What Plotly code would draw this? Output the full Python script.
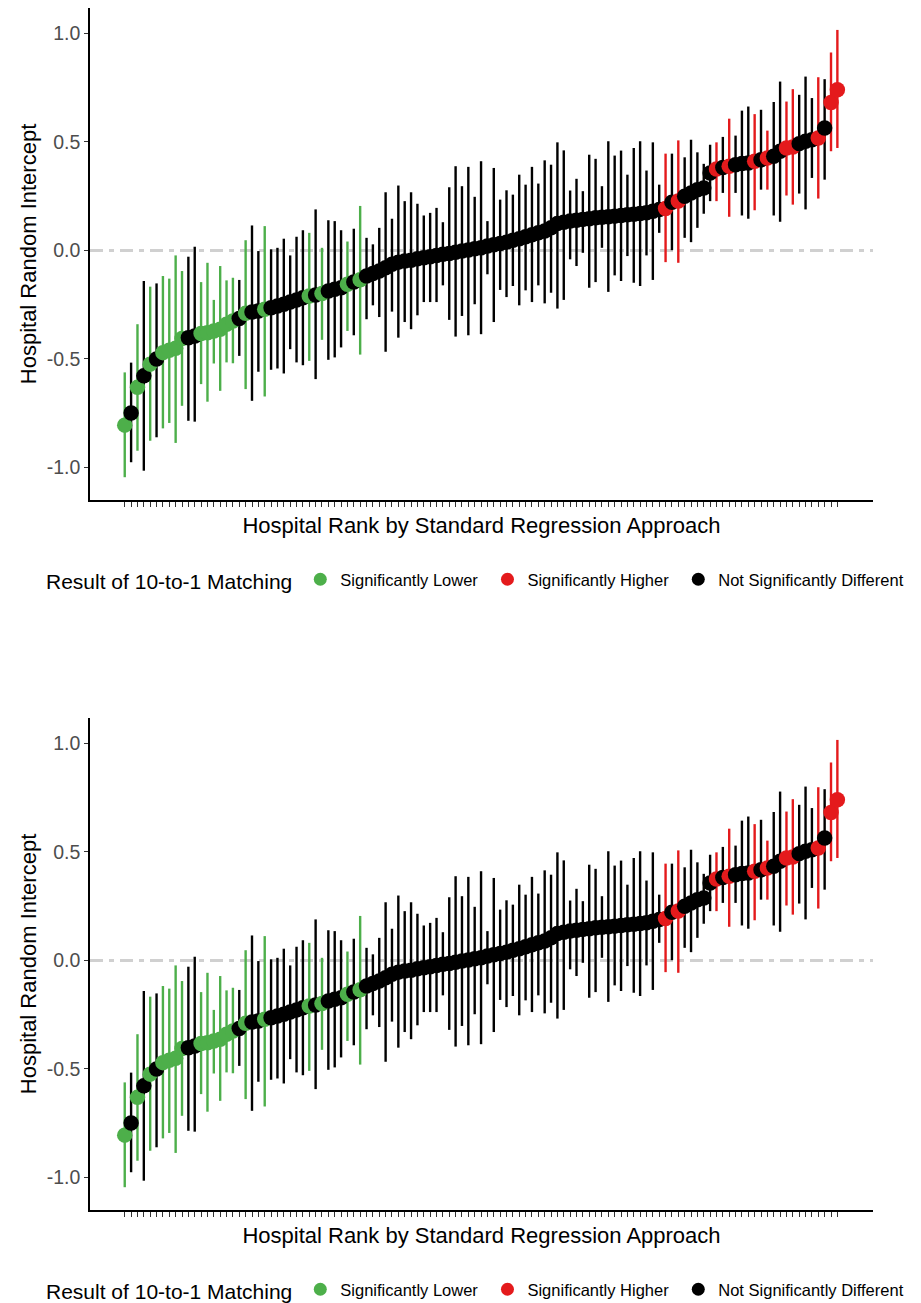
import plotly.graph_objects as go

# ---------------- data ----------------
rank = list(range(1, 114))

estimate = [
    -0.805, -0.749, -0.631, -0.578, -0.524, -0.500, -0.471, -0.460, -0.451, -0.406,
    -0.402, -0.394, -0.383, -0.379, -0.371, -0.363, -0.340, -0.325, -0.314, -0.290,
    -0.284, -0.279, -0.271, -0.264, -0.256, -0.248, -0.238, -0.228, -0.218, -0.210,
    -0.205, -0.199, -0.187, -0.179, -0.172, -0.156, -0.146, -0.135, -0.118, -0.106,
    -0.095, -0.080, -0.064, -0.054, -0.049, -0.045, -0.038, -0.034, -0.029, -0.023,
    -0.018, -0.014, -0.008, -0.003, 0.002, 0.008, 0.012, 0.020, 0.026, 0.032,
    0.038, 0.047, 0.054, 0.063, 0.072, 0.081, 0.089, 0.104, 0.124, 0.130,
    0.135, 0.139, 0.143, 0.146, 0.150, 0.153, 0.155, 0.158, 0.161, 0.164,
    0.167, 0.170, 0.174, 0.180, 0.188, 0.193, 0.222, 0.228, 0.250, 0.265,
    0.280, 0.288, 0.357, 0.375, 0.382, 0.388, 0.395, 0.400, 0.403, 0.411,
    0.418, 0.426, 0.434, 0.457, 0.472, 0.477, 0.492, 0.503, 0.510, 0.518,
    0.564, 0.682, 0.740,
]

lower = [
    -1.045, -0.976, -0.923, -1.015, -0.877, -0.861, -0.820, -0.795, -0.887, -0.716,
    -0.785, -0.789, -0.616, -0.697, -0.521, -0.647, -0.516, -0.520, -0.486, -0.639,
    -0.693, -0.559, -0.673, -0.550, -0.544, -0.567, -0.455, -0.516, -0.529, -0.509,
    -0.593, -0.412, -0.504, -0.493, -0.447, -0.371, -0.391, -0.480, -0.317, -0.253,
    -0.307, -0.467, -0.282, -0.402, -0.330, -0.363, -0.299, -0.238, -0.238, -0.238,
    -0.161, -0.320, -0.397, -0.302, -0.391, -0.248, -0.386, -0.110, -0.330, -0.182,
    -0.215, -0.164, -0.253, -0.184, -0.238, -0.161, -0.244, -0.195, -0.268, -0.228,
    -0.041, -0.072, -0.011, -0.172, -0.146, 0.012, -0.191, -0.115, -0.141, -0.026,
    -0.149, -0.164, -0.023, -0.136, 0.081, -0.054, 0.001, -0.057, 0.058, 0.038,
    0.104, 0.169, 0.227, 0.227, 0.265, 0.155, 0.265, 0.161, 0.146, 0.185,
    0.280, 0.280, 0.161, 0.132, 0.253, 0.211, 0.262, 0.189, 0.334, 0.239,
    0.326, 0.457, 0.472,
]

upper = [
    -0.562, -0.517, -0.340, -0.141, -0.167, -0.152, -0.118, -0.130, -0.023, -0.095,
    -0.029, 0.017, -0.146, -0.057, -0.228, -0.072, -0.138, -0.126, -0.136, 0.047,
    0.115, -0.003, 0.112, 0.005, 0.012, 0.054, -0.023, 0.063, 0.093, 0.081,
    0.189, 0.012, 0.139, 0.135, 0.093, 0.041, 0.100, 0.205, 0.058, 0.028,
    0.104, 0.268, 0.146, 0.299, 0.227, 0.268, 0.215, 0.161, 0.173, 0.196,
    0.130, 0.291, 0.388, 0.296, 0.385, 0.247, 0.411, 0.135, 0.380, 0.234,
    0.277, 0.257, 0.349, 0.303, 0.385, 0.308, 0.415, 0.395, 0.498, 0.461,
    0.276, 0.330, 0.273, 0.441, 0.422, 0.296, 0.503, 0.437, 0.460, 0.349,
    0.472, 0.503, 0.368, 0.498, 0.303, 0.446, 0.446, 0.507, 0.429, 0.510,
    0.452, 0.399, 0.487, 0.498, 0.523, 0.607, 0.529, 0.644, 0.663, 0.628,
    0.648, 0.552, 0.684, 0.778, 0.686, 0.743, 0.717, 0.801, 0.702, 0.798,
    0.789, 0.912, 1.016,
]

# L = Significantly Lower, H = Significantly Higher, N = Not Significantly Different
result = list(
    "LNLNLNLLLLNNLLLLLLNLNNLNNNNNNLNLNNNLNL"   # 1-38
    + "N" * 47                                  # 39-85
    + "HNHNNNNNHNHNNNHNHNNHHNNNHNHH"            # 86-113
)

group_names = {"L": "Significantly Lower", "H": "Significantly Higher",
               "N": "Not Significantly Different"}
group_colors = {"L": "#4DAF4A", "H": "#E41A1C", "N": "#000000"}
group_order = ["L", "H", "N"]

y_tick_vals = [-1.0, -0.5, 0.0, 0.5, 1.0]
y_tick_text = ["-1.0", "-0.5", "0.0", "0.5", "1.0"]

# ---------------- figure ----------------
FONT = "Liberation Sans, Arial, sans-serif"
W, H = 921, 1303
fig = go.Figure()

panels = [("x", "y", "legend"), ("x2", "y2", "legend2")]
NBSP = "\u00a0"

for xa, ya, leg in panels:
    for g in group_order:
        xs, ys = [], []
        for r, lo, hi, res in zip(rank, lower, upper, result):
            if res == g:
                xs += [r, r, None]
                ys += [lo, hi, None]
        fig.add_trace(go.Scatter(
            x=xs, y=ys, mode="lines", xaxis=xa, yaxis=ya,
            line=dict(color=group_colors[g], width=2.4),
            showlegend=False, hoverinfo="skip"))
    fig.add_trace(go.Scatter(
        x=rank, y=estimate, mode="markers", xaxis=xa, yaxis=ya,
        marker=dict(size=15.5, color=[group_colors[r] for r in result],
                    line=dict(width=0)),
        showlegend=False))
    for g in group_order:
        label = group_names[g] + (NBSP if g != "N" else "")
        fig.add_trace(go.Scatter(
            x=[None], y=[None], mode="markers", xaxis=xa, yaxis=ya,
            name=label, legend=leg,
            marker=dict(size=13, color=group_colors[g])))

ML, MR, MT, MB = 90, 48, 8, 93
plot_h = H - MT - MB


def py(px):
    """pixel row -> paper y"""
    return (H - MB - px) / plot_h


x_range = [-4.46, 118.6]
y_range = [-1.15, 1.117]

axis_common_x = dict(
    range=x_range, tickmode="array", tickvals=rank, showticklabels=False,
    ticks="outside", ticklen=5, tickwidth=1, tickcolor="#333333",
    showline=True, linecolor="#000000", linewidth=1.5,
    showgrid=False, zeroline=False, fixedrange=True, automargin=False,
    title=dict(text="Hospital Rank by Standard Regression Approach",
               font=dict(family=FONT, size=22, color="#000000"), standoff=12),
)
axis_common_y = dict(
    range=y_range, tickmode="array", tickvals=y_tick_vals, ticktext=y_tick_text,
    ticks="outside", ticklen=4, tickwidth=1, tickcolor="#333333",
    tickfont=dict(family=FONT, size=19.5, color="#4D4D4D"),
    showline=True, linecolor="#000000", linewidth=1.5,
    showgrid=False, zeroline=False, fixedrange=True, automargin=False,
    title=dict(text="Hospital Random Intercept",
               font=dict(family=FONT, size=22, color="#000000"), standoff=4),
)

fig.update_layout(
    width=W, height=H,
    margin=dict(l=ML, r=MR, t=MT, b=MB, autoexpand=False),
    paper_bgcolor="white", plot_bgcolor="white",
    font=dict(family=FONT, color="#000000"),
    xaxis=dict(axis_common_x, domain=[0, 1], anchor="y"),
    yaxis=dict(axis_common_y, domain=[py(500), py(8)], anchor="x"),
    xaxis2=dict(axis_common_x, domain=[0, 1], anchor="y2"),
    yaxis2=dict(axis_common_y, domain=[py(1210), py(718)], anchor="x2"),
)

legend_common = dict(
    orientation="h", xref="container", yref="container",
    xanchor="left", yanchor="middle",
    font=dict(family=FONT, size=16.5, color="#000000"),
    title=dict(text="Result of 10-to-1 Matching", side="left",
               font=dict(family=FONT, size=21, color="#000000")),
    bgcolor="rgba(0,0,0,0)", borderwidth=0, itemclick=False,
)
fig.update_layout(
    legend=dict(legend_common, x=44 / W, y=1 - 581 / H),
    legend2=dict(legend_common, x=44 / W, y=1 - 1291 / H),
)

for xa, ya in [("x", "y"), ("x2", "y2")]:
    fig.add_shape(type="line", xref=xa, yref=ya, x0=x_range[0], x1=x_range[1],
                  y0=0, y1=0, layer="below",
                  line=dict(color="#D0D0D0", width=3, dash="13px,6px,5px,6px"))

fig.write_html("out.html")
